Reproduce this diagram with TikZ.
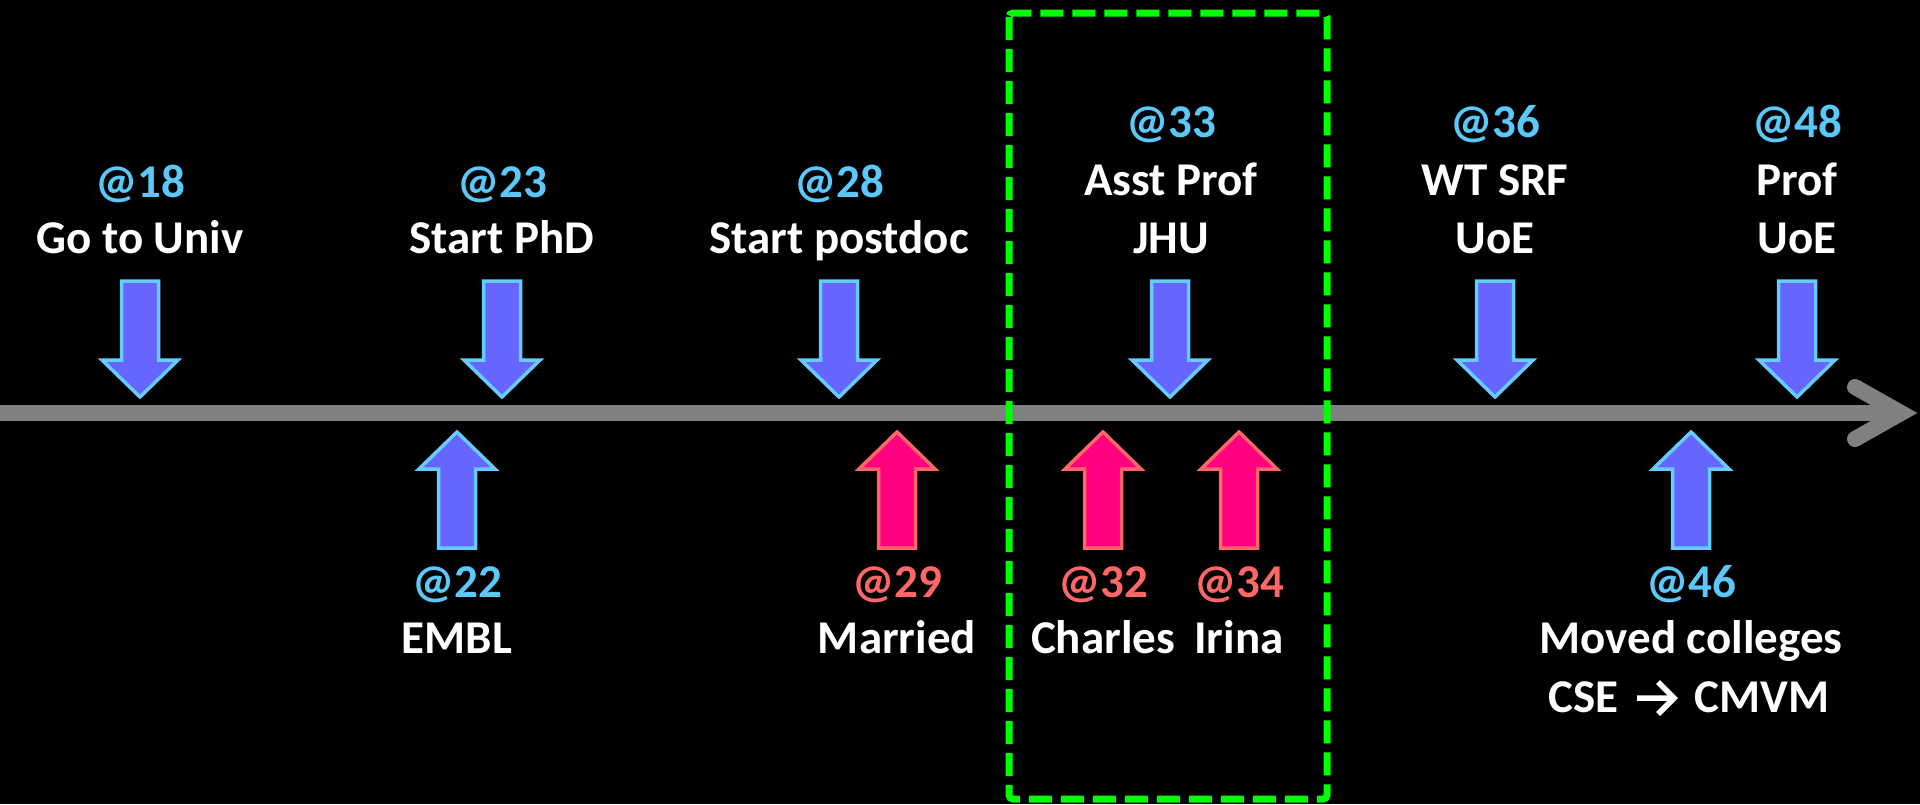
\documentclass[tikz,border=0pt]{standalone}
\usepackage{fontspec}
\setmainfont{Carlito}
\definecolor{arrblue}{HTML}{6666FF}
\definecolor{arrblueedge}{HTML}{66CCFF}
\definecolor{agecyan}{HTML}{5BC8FA}
\definecolor{arrpink}{HTML}{FF0080}
\definecolor{arrpinkedge}{HTML}{FF6666}
\definecolor{agepink}{HTML}{FF6666}
\definecolor{boxgreen}{HTML}{00FF00}
\definecolor{linegray}{HTML}{808080}
\newcommand{\textarrowsym}{\tikz[baseline=0pt,x=1pt,y=1pt]\draw[white,line width=5.5pt,line cap=butt,line join=miter] (0,14) -- (36,14) (21,30) -- (37,14) -- (21,-2);}
\begin{document}
\begin{tikzpicture}[x=1pt,y=-1pt,
  bluearr/.style={fill=arrblue,draw=arrblueedge,line width=3.5pt,line join=miter},
  pinkarr/.style={fill=arrpink,draw=arrpinkedge,line width=3.5pt,line join=miter},
  txt/.style={font=\fontsize{47}{56}\selectfont\bfseries,anchor=base,inner sep=0pt},
  agebl/.style={txt,text=agecyan},
  agepk/.style={txt,text=agepink},
  descr/.style={txt,text=white},
  dnarrow/.pic={\path[pic actions] (-18.5,-116) -- (18.5,-116) -- (18.5,-37) -- (38,-37) -- (0,0) -- (-38,-37) -- (-18.5,-37) -- cycle;},
  uparrow/.pic={\path[pic actions] (-18.5,116) -- (18.5,116) -- (18.5,37) -- (38,37) -- (0,0) -- (-38,37) -- (-18.5,37) -- cycle;},
  timeline/.style={draw=linegray,line width=16pt},
  hilite/.style={draw=boxgreen,line width=7pt,dash pattern=on 23pt off 9pt,rounded corners=4pt}
]
\useasboundingbox (0,0) rectangle (1920,804);
\fill[black] (0,0) rectangle (1920,804);

% timeline
\coordinate (tstart) at (0,413);
\coordinate (tend) at (1904,413);
\coordinate (armup) at (1855,387);
\coordinate (armdn) at (1855,439);
\draw[timeline,line cap=butt] (tstart) -- (tend);
\draw[timeline,line cap=round,line join=miter] (armup) -- (1901,413) -- (armdn);

% highlight box
\draw[hilite] (1009,13) rectangle (1327,799);

% down arrows (above the line)
\pic (p18) [bluearr] at (140,397) {dnarrow};
\pic (p23) [bluearr] at (502,397) {dnarrow};
\pic (p28) [bluearr] at (839,397) {dnarrow};
\pic (p33) [bluearr] at (1170,397) {dnarrow};
\pic (p36) [bluearr] at (1495,397) {dnarrow};
\pic (p48) [bluearr] at (1797,397) {dnarrow};

% up arrows (below the line)
\pic (p22) [bluearr] at (457,432) {uparrow};
\pic (p29) [pinkarr] at (897,432) {uparrow};
\pic (p32) [pinkarr] at (1103,432) {uparrow};
\pic (p34) [pinkarr] at (1239,432) {uparrow};
\pic (p46) [bluearr] at (1691,432) {uparrow};

% labels above
\node[agebl] (a18) at (140,197) {@18};
\node[descr] (d18) at (140,253) {Go to Univ};
\node[agebl] (a23) at (502,197) {@23};
\node[descr] (d23) at (502,253) {Start PhD};
\node[agebl] (a28) at (839,197) {@28};
\node[descr] (d28) at (839,253) {Start postdoc};
\node[agebl] (a33) at (1171,137) {@33};
\node[descr] (d33a) at (1171,195) {Asst Prof};
\node[descr] (d33b) at (1171,253) {JHU};
\node[agebl] (a36) at (1495,137) {@36};
\node[descr] (d36a) at (1495,195) {WT SRF};
\node[descr] (d36b) at (1495,253) {UoE};
\node[agebl] (a48) at (1797,137) {@48};
\node[descr] (d48a) at (1797,195) {Prof};
\node[descr] (d48b) at (1797,253) {UoE};

% labels below
\node[agebl] (a22) at (457,597) {@22};
\node[descr] (d22) at (457,653) {EMBL};
\node[agepk] (a29) at (897,597) {@29};
\node[descr] (d29) at (897,653) {Married};
\node[agepk] (a32) at (1103,597) {@32};
\node[descr] (d32) at (1103,653) {Charles};
\node[agepk] (a34) at (1239,597) {@34};
\node[descr] (d34) at (1239,653) {Irina};
\node[agebl] (a46) at (1691,597) {@46};
\node[descr] (d46a) at (1691,653) {Moved colleges};
\node[descr] (d46b) at (1689,712) {CSE\hspace{16pt}\textarrowsym\hspace{18pt}CMVM};
\end{tikzpicture}
\end{document}
